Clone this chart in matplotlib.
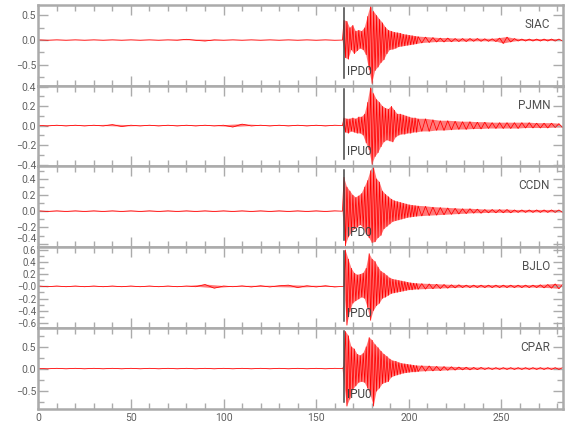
import numpy as np
import matplotlib
matplotlib.use("Agg")
import matplotlib.pyplot as plt
from matplotlib.ticker import MultipleLocator, FixedLocator
from matplotlib import font_manager as fm
import matplotlib.transforms as mtrans

# ---------------- data ----------------
stations = ["SIAC", "PJMN", "CCDN", "BJLO", "CPAR"]
picks = ["IPD0", "IPU0", "IPD0", "IPD0", "IPU0"]
pick_time = 165.0

# sampling grids (s)
pre_start, pre_step = 0.0, 5.0          # pre-event noise
strong_start, strong_step = 164.2, 0.8  # strong motion, successive extrema
coda_start, coda_step = 205.0, 2.0      # coda, successive extrema

pre_siac = [0.004, -0.004, 0.004, -0.004, 0.004, -0.004, 0.004, -0.004, 0.004, -0.004, 0.004,
            -0.004, 0.004, -0.004, 0.004, -0.004, 0.015, -0.006, -0.02, 0.004, -0.004, 0.004,
            -0.004, 0.004, -0.004, 0.004, -0.004, 0.004, -0.004, 0.004, -0.004, 0.004, -0.004]
strong_siac = [0.0, 0.40, -0.36, 0.38, -0.39, 0.25, -0.20, 0.30, -0.28, 0.18, -0.22,
               0.20, -0.17, 0.18, -0.20, 0.25, -0.30, 0.48, -0.60, 0.70, -0.88, 0.58,
               -0.62, 0.50, -0.55, 0.42, -0.46, 0.35, -0.40, 0.26, -0.28, 0.20, -0.20,
               0.18, -0.19, 0.16, -0.17, 0.15, -0.14, 0.14, -0.13, 0.12, -0.12, 0.11,
               -0.11, 0.10, -0.10, 0.09, -0.09, 0.08, -0.08]
coda_siac = [0.07, -0.06, 0.06, -0.05, 0.05, -0.04, 0.04, -0.04, 0.04, -0.035, 0.03,
             -0.03, 0.03, -0.03, 0.03, -0.025, 0.03, -0.025, 0.025, -0.025, 0.025,
             -0.03, 0.04, -0.07, 0.06, -0.04, 0.03, -0.02, 0.02, -0.02, 0.02, -0.02,
             0.02, -0.02, 0.02, -0.02, 0.02, -0.02, 0.02, -0.02]

pre_pjmn = [0.004, -0.004, 0.004, -0.004, 0.004, -0.004, 0.004, -0.004, 0.01, -0.01, 0.004,
            -0.004, 0.004, -0.004, 0.004, -0.004, 0.004, -0.004, 0.004, -0.004, 0.004, -0.015,
            0.015, -0.004, 0.004, -0.004, 0.004, -0.004, 0.004, -0.004, 0.004, -0.004, 0.004]
strong_pjmn = [0.0, 0.08, -0.07, 0.07, -0.08, 0.07, -0.06, 0.08, -0.07, 0.07, -0.08,
               0.09, -0.08, 0.09, -0.10, 0.12, -0.18, 0.24, -0.25, 0.41, -0.40, 0.33,
               -0.32, 0.27, -0.28, 0.24, -0.22, 0.20, -0.17, 0.18, -0.15, 0.17, -0.16,
               0.20, -0.17, 0.16, -0.12, 0.12, -0.10, 0.12, -0.09, 0.11, -0.09, 0.10,
               -0.08, 0.09, -0.08, 0.08, -0.07, 0.08, -0.07]
coda_pjmn = [0.07, -0.06, 0.07, -0.06, 0.06, -0.05, 0.05, -0.05, 0.05, -0.045, 0.045,
             -0.04, 0.04, -0.04, 0.04, -0.035, 0.035, -0.035, 0.035, -0.03, 0.03,
             -0.03, 0.03, -0.03, 0.03, -0.03, 0.03, -0.03, 0.03, -0.025, 0.03, -0.025,
             0.025, -0.025, 0.025, -0.025, 0.025, -0.02, 0.02, -0.02]

pre_ccdn = [0.004, -0.004, 0.004, -0.004, 0.004, -0.004, 0.004, -0.004, 0.004, -0.004, 0.004,
            -0.004, 0.004, -0.004, 0.004, -0.004, 0.004, -0.004, 0.004, -0.004, 0.004, -0.004,
            0.004, -0.004, 0.004, -0.004, 0.004, -0.004, 0.004, -0.004, 0.004, -0.004, 0.004]
strong_ccdn = [0.0, 0.42, -0.43, 0.30, -0.32, 0.25, -0.27, 0.20, -0.22, 0.17, -0.20,
               0.19, -0.17, 0.22, -0.20, 0.30, -0.28, 0.38, -0.33, 0.50, -0.39, 0.55,
               -0.38, 0.40, -0.33, 0.36, -0.30, 0.25, -0.22, 0.21, -0.19, 0.18, -0.16,
               0.15, -0.13, 0.13, -0.12, 0.12, -0.11, 0.11, -0.10, 0.10, -0.09, 0.09,
               -0.08, 0.08, -0.075, 0.075, -0.07, 0.07, -0.065]
coda_ccdn = [0.065, -0.06, 0.06, -0.055, 0.05, -0.05, 0.045, -0.045, 0.04, -0.04,
             0.035, -0.035, 0.03, -0.03, 0.03, -0.025, 0.025, -0.025, 0.02, -0.02,
             0.02, -0.02, 0.02, -0.02, 0.02, -0.02, 0.015, -0.015, 0.015, -0.015,
             0.015, -0.015, 0.015, -0.015, 0.015, -0.015, 0.015, -0.015, 0.015, -0.015]

pre_bjlo = [0.006, -0.006, 0.006, -0.006, 0.006, -0.006, 0.006, -0.006, 0.006, -0.006,
            0.006, -0.006, 0.006, -0.006, 0.006, -0.006, 0.006, -0.006, 0.03, -0.03,
            0.006, -0.006, 0.008, -0.01, 0.01, -0.01, 0.01, 0.02, -0.02, 0.01, -0.01,
            0.01, -0.01]
strong_bjlo = [0.0, 0.0, 0.60, -0.64, 0.45, -0.42, 0.30, -0.28, 0.22, -0.24, 0.19,
               -0.21, 0.20, -0.18, 0.22, -0.20, 0.30, -0.35, 0.54, -0.56, 0.45, -0.40,
               0.41, -0.32, 0.32, -0.28, 0.25, -0.20, 0.22, -0.18, 0.18, -0.15, 0.14,
               -0.12, 0.12, -0.11, 0.11, -0.10, 0.10, -0.09, 0.09, -0.08, 0.08, -0.07,
               0.07, -0.06, 0.06, -0.06, 0.055, -0.05, 0.05]
coda_bjlo = [-0.05, 0.045, -0.045, 0.04, -0.04, 0.035, -0.035, 0.03, -0.03, 0.025,
             -0.025, 0.025, -0.02, 0.02, -0.02, 0.02, -0.02, 0.02, -0.02, 0.02, -0.02,
             0.02, -0.02, 0.02, -0.02, 0.02, -0.02, 0.02, -0.02, 0.02, -0.02, 0.02,
             -0.02, 0.025, -0.025, 0.03, -0.03, 0.04, -0.04, 0.03]

pre_cpar = [0.006, -0.006, 0.006, -0.006, 0.006, -0.006, 0.006, -0.006, 0.006, -0.006, 0.006,
            -0.006, 0.006, -0.006, 0.006, -0.006, 0.006, -0.006, 0.006, -0.006, 0.006, -0.006,
            0.006, -0.006, 0.006, -0.006, 0.006, -0.006, 0.006, -0.006, 0.006, -0.006, 0.006]
strong_cpar = [0.0, 0.05, 0.85, -0.86, 0.75, -0.70, 0.50, -0.48, 0.45, -0.40, 0.33,
               -0.32, 0.30, -0.30, 0.35, -0.32, 0.50, -0.45, 0.71, -0.60, 0.65, -0.86,
               0.55, -0.52, 0.48, -0.45, 0.40, -0.35, 0.33, -0.32, 0.28, -0.30, 0.22,
               -0.20, 0.18, -0.17, 0.17, -0.15, 0.14, -0.13, 0.12, -0.11, 0.11, -0.10,
               0.10, -0.09, 0.09, -0.08, 0.08, -0.08, 0.07]
coda_cpar = [-0.07, 0.065, -0.06, 0.06, -0.055, 0.05, -0.05, 0.045, -0.04, 0.04,
             -0.035, 0.035, -0.03, 0.03, -0.03, 0.025, -0.025, 0.025, -0.02, 0.02,
             -0.02, 0.02, -0.02, 0.02, -0.02, 0.02, -0.02, 0.02, -0.02, 0.02, -0.02,
             0.02, -0.02, 0.02, -0.02, 0.02, -0.02, 0.02, -0.02, 0.02]

traces = {
    "SIAC": (pre_siac, strong_siac, coda_siac),
    "PJMN": (pre_pjmn, strong_pjmn, coda_pjmn),
    "CCDN": (pre_ccdn, strong_ccdn, coda_ccdn),
    "BJLO": (pre_bjlo, strong_bjlo, coda_bjlo),
    "CPAR": (pre_cpar, strong_cpar, coda_cpar),
}

ylims = {"SIAC": (-0.92, 0.71), "PJMN": (-0.42, 0.41), "CCDN": (-0.445, 0.55),
         "BJLO": (-0.685, 0.64), "CPAR": (-0.92, 0.92)}
ymajor = {"SIAC": [-0.5, 0.0, 0.5], "PJMN": [-0.4, -0.2, 0.0, 0.2, 0.4],
          "CCDN": [-0.4, -0.2, 0.0, 0.2, 0.4],
          "BJLO": [-0.6, -0.4, -0.2, 0.0, 0.2, 0.4, 0.6], "CPAR": [-0.5, 0.0, 0.5]}
ylabels = {"SIAC": ["\u22120.5", "0.0", "0.5"],
           "PJMN": ["\u22120.4", "\u22120.2", "0.0", "0.2", "0.4"],
           "CCDN": ["\u22120.4", "\u22120.2", "0.0", "0.2", "0.4"],
           "BJLO": ["\u22120.6", "\u22120.4", "\u22120.2", "\u22120.0", "0.2", "0.4", "0.6"],
           "CPAR": ["\u22120.5", "0.0", "0.5"]}
yminor = {"SIAC": 0.25, "PJMN": 0.1, "CCDN": 0.1, "BJLO": 0.1, "CPAR": 0.25}
xticks = [0, 50, 100, 150, 200, 250]
xlim = (0, 283)

# ---------------- style ----------------
names = {f.name for f in fm.fontManager.ttflist}
fam = [f for f in ["Roboto", "DejaVu Sans"] if f in names] or ["DejaVu Sans"]
plt.rcParams["font.family"] = fam
axis_col = "#ababab"
txt_col = "#606060"

fig = plt.figure(figsize=(5.8, 4.4), dpi=100)
gs = fig.add_gridspec(5, 1, left=0.066, right=0.970, top=0.989, bottom=0.0705, hspace=0)

for i, st in enumerate(stations):
    ax = fig.add_subplot(gs[i])
    pre, strong, coda = traces[st]
    t = np.concatenate([pre_start + pre_step * np.arange(len(pre)),
                        strong_start + strong_step * np.arange(len(strong)),
                        coda_start + coda_step * np.arange(len(coda))])
    a = np.concatenate([pre, strong, coda])
    up = a >= 0
    lo = a <= 0
    px = np.concatenate([t[up], t[lo][::-1]])
    py = np.concatenate([a[up], a[lo][::-1]])
    ax.fill(px, py, color="#ff2020", alpha=0.6, lw=0)
    ax.plot(t, a, color="#ff0000", lw=0.55, solid_joinstyle="miter")

    ax.set_xlim(*xlim)
    ax.set_ylim(*ylims[st])
    ax.xaxis.set_major_locator(FixedLocator(xticks))
    ax.xaxis.set_minor_locator(MultipleLocator(10))
    ax.yaxis.set_major_locator(FixedLocator(ymajor[st]))
    ax.set_yticklabels(ylabels[st])
    ax.yaxis.set_minor_locator(MultipleLocator(yminor[st]))
    lsize = 7.0 if st == "BJLO" else 7.5
    ax.tick_params(which="both", direction="in", top=True, right=True,
                   color=axis_col, width=1.0, labelcolor=txt_col, labelsize=lsize, pad=1.5)
    ax.tick_params(which="major", length=7)
    ax.tick_params(which="minor", length=4)
    if i < len(stations) - 1:
        ax.tick_params(axis="x", labelbottom=False)
    else:
        ax.tick_params(axis="x", pad=3, labelsize=7.5)
    for sp in ax.spines.values():
        sp.set_color(axis_col)
        sp.set_linewidth(1.8)

    # keep labels at the panel join from colliding
    if st == "CCDN":
        ax.yaxis.get_major_ticks()[0].label1.set_va("bottom")

    ax.axvline(pick_time, ymin=0.09, ymax=0.96, color="#444444", lw=1.1)
    trans = mtrans.blended_transform_factory(ax.transData, ax.transAxes)
    ax.text(pick_time + 1.5, 0.1, picks[i], transform=trans, ha="left", va="bottom",
            fontsize=8.5, color="#404040")
    ax.text(0.976, 0.76, st, transform=ax.transAxes, ha="right", va="center",
            fontsize=8.5, color="#505050")

fig.savefig("out.png", dpi=100)
